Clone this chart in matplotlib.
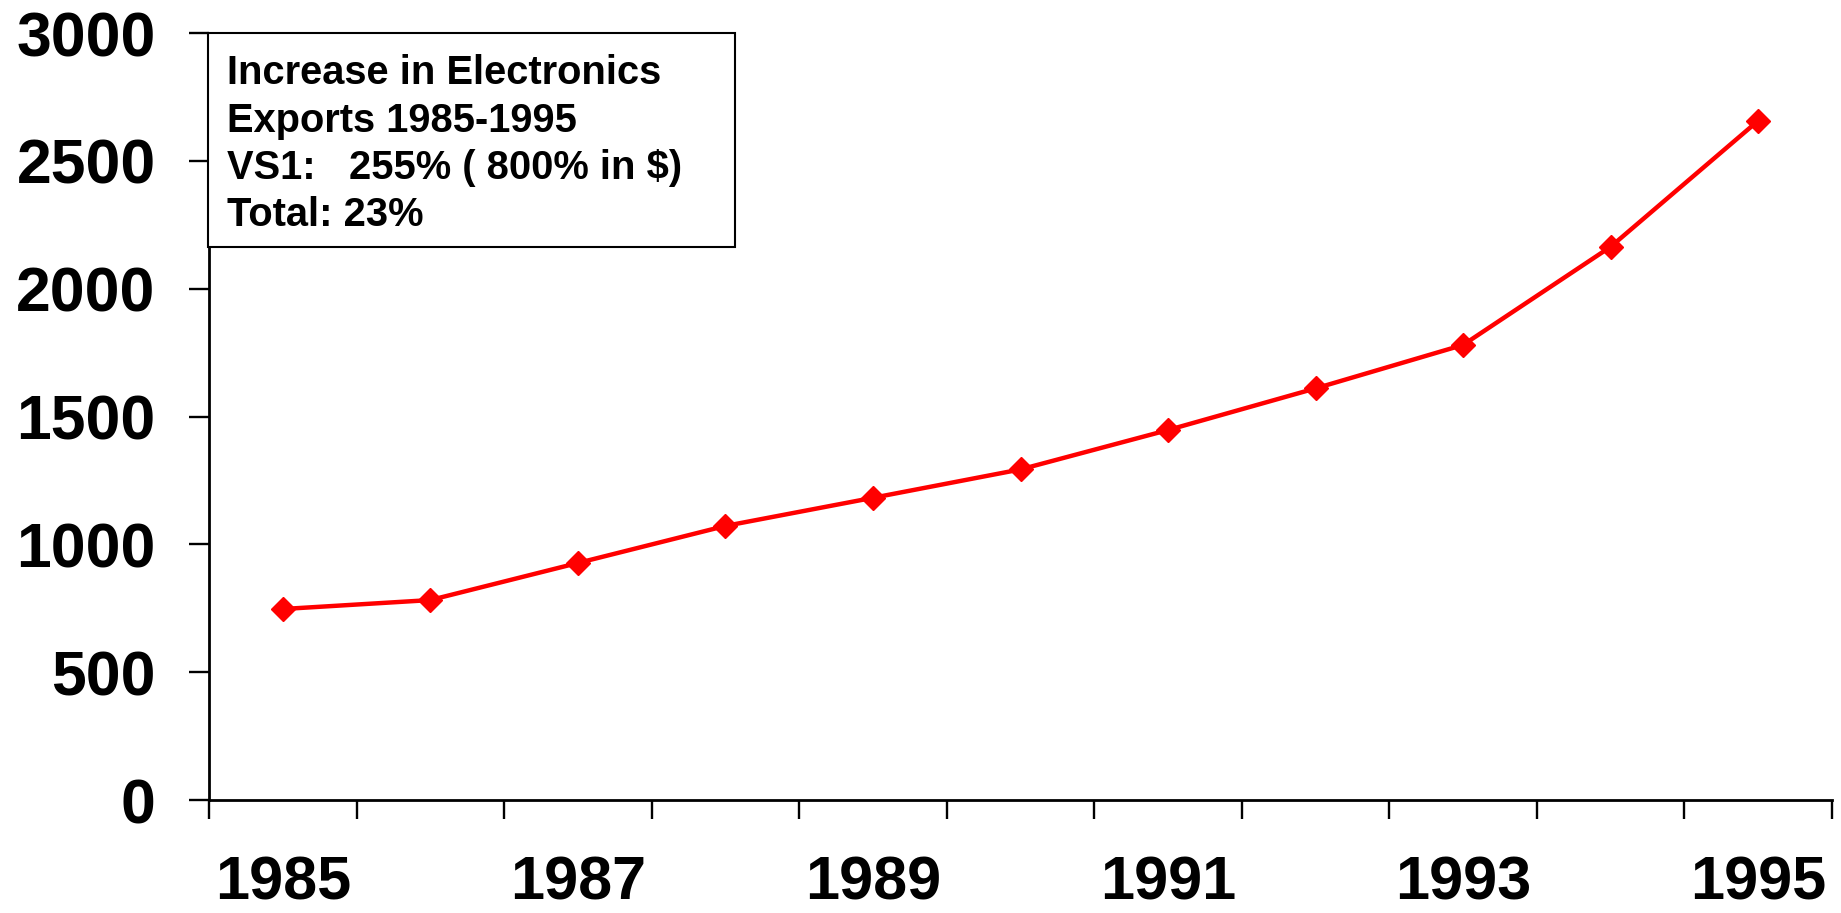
import matplotlib
matplotlib.use("Agg")
import matplotlib.pyplot as plt
from matplotlib.patches import Rectangle

# Electronics exports by year
years = [1985, 1986, 1987, 1988, 1989, 1990, 1991, 1992, 1993, 1994, 1995]
exports = [747, 782, 927, 1072, 1182, 1293, 1447, 1610, 1780, 2164, 2657]
year_labels = ["1985", "1987", "1989", "1991", "1993", "1995"]
y_ticks = [0, 500, 1000, 1500, 2000, 2500, 3000]
note_lines = [
    "Increase in Electronics",
    "Exports 1985-1995",
    "VS1:   255% ( 800% in $)",
    "Total: 23%",
]

plt.rcParams["font.family"] = ["Liberation Sans", "DejaVu Sans"]
plt.rcParams["font.weight"] = "bold"

W, H = 1841, 913
fig = plt.figure(figsize=(W / 100, H / 100), dpi=100)
fig.patch.set_facecolor("white")

ax_left, ax_right, ax_top, ax_bottom = 209, 1832, 33, 800
ax = fig.add_axes([ax_left / W, 1 - ax_bottom / H,
                   (ax_right - ax_left) / W, (ax_bottom - ax_top) / H])

xpos = list(range(len(years)))
ax.plot(xpos, exports, color="#FF0000", lw=3.2, marker="D", ms=12,
        mfc="#FF0000", mec="#FF0000", clip_on=False, zorder=3)

ax.set_xlim(-0.5, len(years) - 0.5)
ax.set_ylim(0, 3000)

for side in ("top", "right"):
    ax.spines[side].set_visible(False)
for side in ("left", "bottom"):
    ax.spines[side].set_linewidth(2.0)
    ax.spines[side].set_color("black")

# y axis: outward ticks with large bold labels
ax.set_yticks(y_ticks)
ax.set_yticklabels([str(v) for v in y_ticks])
ax.tick_params(axis="y", direction="out", length=14.4, width=1.7,
               pad=24, labelsize=45, colors="black")

# x axis: tick marks between categories, labels on every other year
ax.set_xticks([i - 0.5 for i in range(len(years) + 1)])
ax.set_xticklabels([])
label_pos = [years.index(int(lbl)) for lbl in year_labels]
ax.set_xticks(label_pos, minor=True)
ax.set_xticklabels(year_labels, minor=True)
ax.tick_params(axis="x", which="major", direction="out", length=14, width=1.7)
ax.tick_params(axis="x", which="minor", length=0, pad=40, labelsize=44)

for lbl in ax.get_xticklabels(minor=True) + ax.get_yticklabels():
    lbl.set_fontweight("bold")

# annotation box in the upper-left corner
box_l, box_r, box_t, box_b = 208, 735, 33, 247
fig.add_artist(Rectangle((box_l / W, 1 - box_b / H), (box_r - box_l) / W,
                         (box_b - box_t) / H, transform=fig.transFigure,
                         facecolor="white", edgecolor="black", lw=1.5,
                         zorder=5))
baselines = [84, 131.5, 179, 226.5]
for line, base in zip(note_lines, baselines):
    fig.text(227 / W, 1 - base / H, line, fontsize=28.7, fontweight="bold",
             va="baseline", ha="left", color="black", zorder=6)

fig.savefig("out.png", dpi=100, facecolor="white")
